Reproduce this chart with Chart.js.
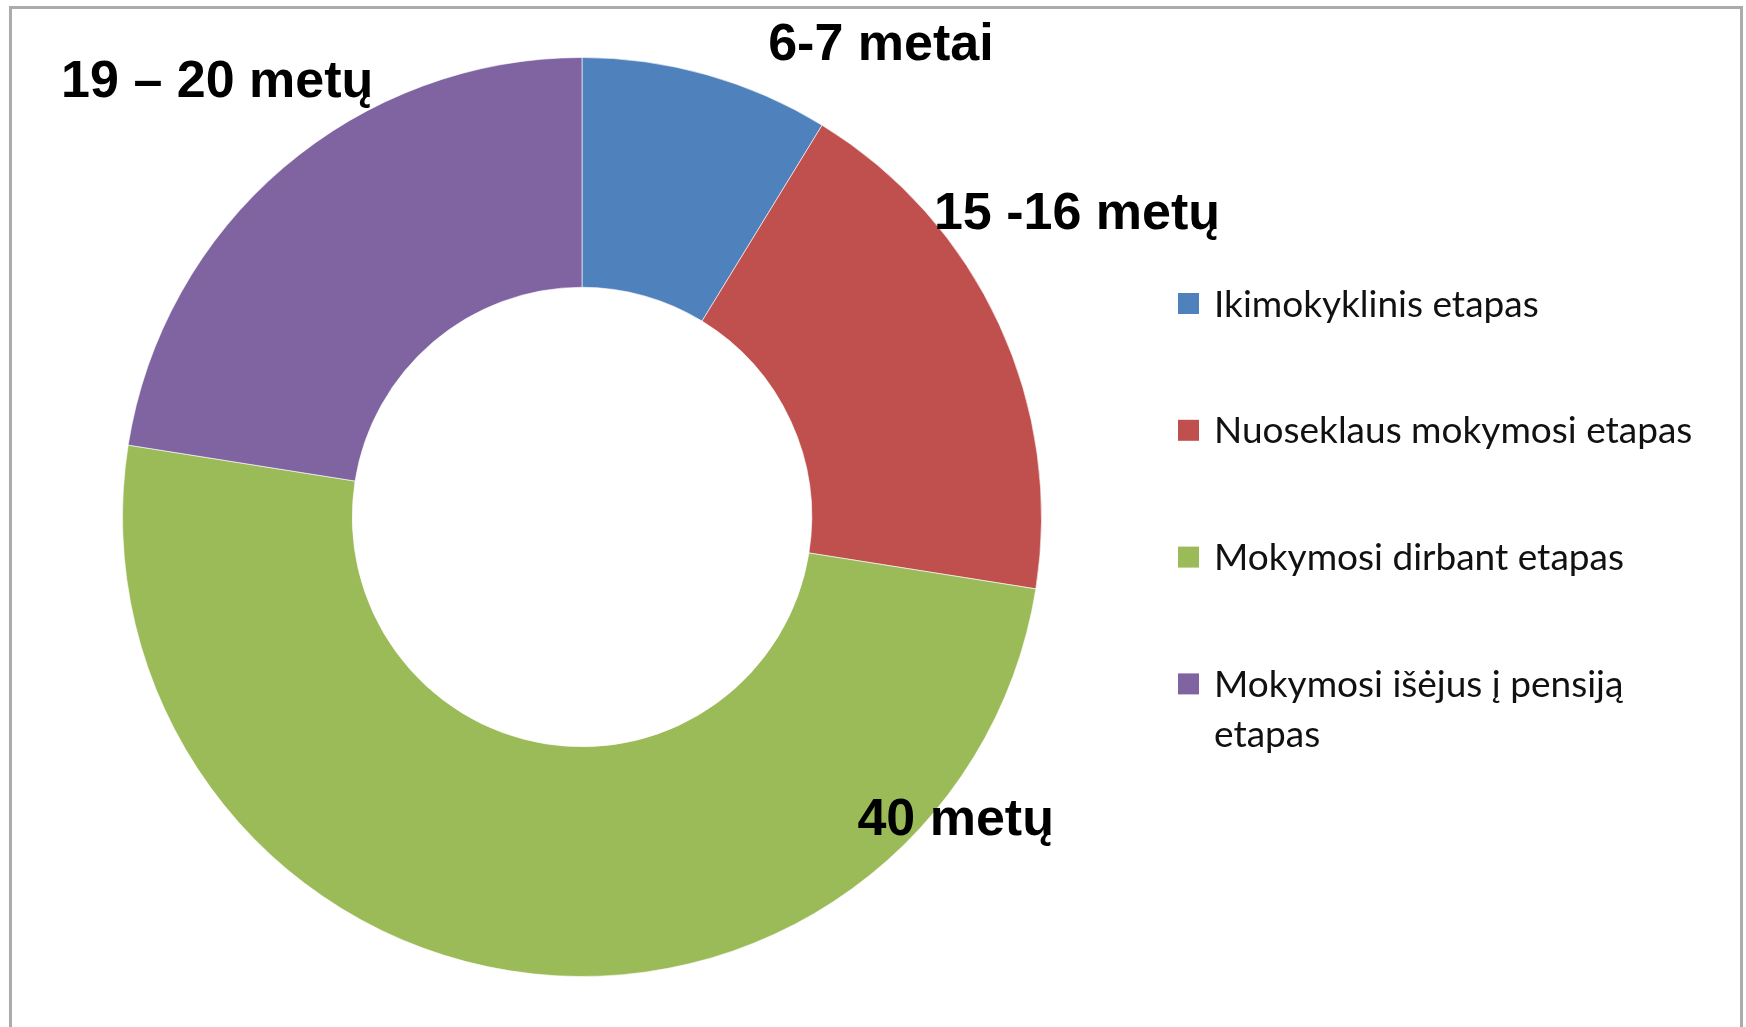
<!DOCTYPE html>
<html>
<head>
<meta charset="utf-8">
<script src="https://cdn.jsdelivr.net/npm/chart.js@4.4.1/dist/chart.umd.min.js"></script>
<style>
  html, body { margin: 0; padding: 0; background: #fff; overflow: hidden; }
  #frame { position: absolute; left: 9px; top: 6px; width: 1728px; height: 1100px; border: 3px solid #ababab; box-sizing: content-box; }
  #wrap { position: absolute; left: 0; top: 0; width: 1746px; height: 1027px; }
</style>
</head>
<body>
<div id="frame"></div>
<div id="wrap"><canvas id="myChart"></canvas></div>
<script>
// stages of learning and length of each (years)
var stages = ['Ikimokyklinis etapas', 'Nuoseklaus mokymosi etapas', 'Mokymosi dirbant etapas', 'Mokymosi išėjus į pensiją etapas'];
var years = [7, 15, 40, 18];
var ageNotes = ['6-7 metai', '15 -16 metų', '40 metų', '19 – 20 metų'];
var colors = ['#4F81BD', '#C0504D', '#9BBB59', '#8064A2'];

// where each note sits: [fraction along the arc, radius factor]
var notePlace = [[1.02, 1.223], [0.396, 1.267], [0.165, 1.042], [0.509, 1.241]];

var notesPlugin = {
    id: 'ageNotes',
    afterDatasetsDraw: function(chart) {
        var ctx = chart.ctx;
        var meta = chart.getDatasetMeta(0);
        var size = 52;
        ctx.save();
        ctx.font = 'bold ' + size + 'px "Liberation Sans", Arial, sans-serif';
        ctx.fillStyle = '#000';
        ctx.textAlign = 'center';
        ctx.textBaseline = 'alphabetic';
        meta.data.forEach(function(arc, i) {
            var p = arc.getProps(['x', 'y', 'startAngle', 'endAngle', 'outerRadius'], true);
            var a = p.startAngle + (p.endAngle - p.startAngle) * notePlace[i][0];
            var r = p.outerRadius * notePlace[i][1];
            ctx.fillText(ageNotes[i], p.x + Math.cos(a) * r, p.y + Math.sin(a) * r + size * 0.716 / 2);
        });
        ctx.restore();
    }
};

var legendPlugin = {
    id: 'sideLegend',
    afterDraw: function(chart) {
        var ctx = chart.ctx;
        var boxX = 1178, box = 21, textX = 1214, firstY = 303.5, step = 126.8, lineH = 50;
        var maxW = 1746 - textX - 20;
        ctx.save();
        ctx.font = '37px Lato, "Open Sans", sans-serif';
        ctx.textAlign = 'left';
        ctx.textBaseline = 'alphabetic';
        chart.data.labels.forEach(function(label, i) {
            var cy = firstY + i * step;
            ctx.fillStyle = chart.data.datasets[0].backgroundColor[i];
            ctx.fillRect(boxX, cy - box / 2, box, box);
            // simple word wrap
            var words = label.split(' ');
            var lines = [], cur = '';
            words.forEach(function(w) {
                var t = cur ? cur + ' ' + w : w;
                if (ctx.measureText(t).width > maxW && cur) { lines.push(cur); cur = w; }
                else cur = t;
            });
            lines.push(cur);
            ctx.fillStyle = '#111';
            lines.forEach(function(l, k) {
                ctx.fillText(l, textX, cy + 13 + k * lineH);
            });
        });
        ctx.restore();
    }
};

var chart = new Chart('myChart', {
    type: 'doughnut',
    data: {
        labels: stages,
        datasets: [{
            data: years,
            backgroundColor: colors,
            borderColor: 'rgba(255,255,255,0.6)',
            borderWidth: 1
        }]
    },
    options: {
        responsive: true,
        maintainAspectRatio: false,
        animation: false,
        cutout: '50%',
        layout: { padding: { left: 122, top: 57, right: 704, bottom: 50 } },
        plugins: {
            legend: { display: false },
            tooltip: { enabled: false }
        }
    },
    plugins: [notesPlugin, legendPlugin]
});
</script>
</body>
</html>
